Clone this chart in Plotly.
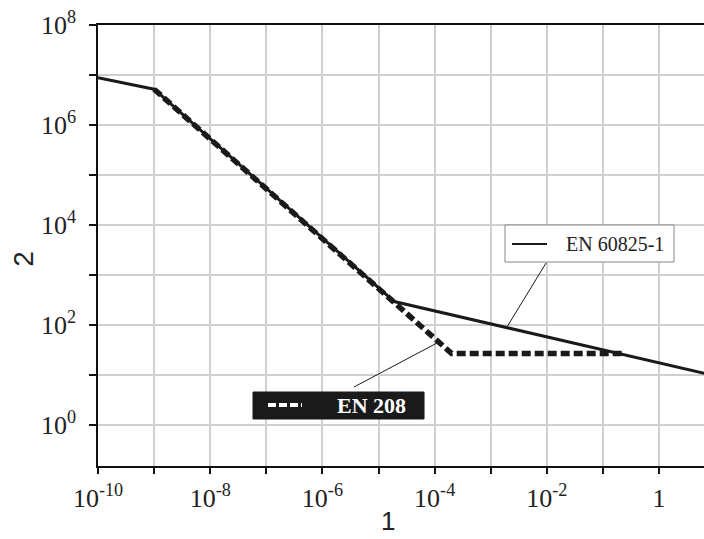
import plotly.graph_objects as go

# ---- data ----
x_en60825 = [1e-10, 1e-9, 1.9e-5, 10]
y_en60825 = [8.8e6, 5.2e6, 295, 9.6]

x_en208 = [1e-9, 1.9e-5, 2e-4, 0.22]
y_en208 = [5.2e6, 295, 27, 27]

x_tickvals = [1e-10, 1e-8, 1e-6, 1e-4, 1e-2, 1]
x_ticktext = ["10<sup>-10</sup>", "10<sup>-8</sup>", "10<sup>-6</sup>",
              "10<sup>-4</sup>", "10<sup>-2</sup>", "1"]
x_minorvals = [1e-9, 1e-7, 1e-5, 1e-3, 1e-1]
y_tickvals = [1, 1e2, 1e4, 1e6, 1e8]
y_ticktext = ["10<sup>0</sup>", "10<sup>2</sup>", "10<sup>4</sup>",
              "10<sup>6</sup>", "10<sup>8</sup>"]
y_minorvals = [10, 1e3, 1e5, 1e7]

x_title = "1"
y_title = "2"
label_60825 = "EN 60825-1"
label_208 = "EN 208"

LINE = "#1a1a1a"
GRID = "#cfcfcf"

fig = go.Figure()
fig.add_trace(go.Scatter(x=x_en60825, y=y_en60825, mode="lines",
                         line=dict(color=LINE, width=3), showlegend=False,
                         name=label_60825))
fig.add_trace(go.Scatter(x=x_en208, y=y_en208, mode="lines",
                         line=dict(color=LINE, width=5.5, dash="9px,4px"),
                         showlegend=False, name=label_208))

tickfont = dict(family="Liberation Serif", size=26, color="#222")

fig.update_xaxes(type="log", range=[-10, 0.80], automargin=False,
                 tickvals=x_tickvals, ticktext=x_ticktext, tickfont=tickfont,
                 ticks="outside", ticklen=6, tickwidth=1.5, tickcolor="#111",
                 showgrid=True, gridcolor=GRID, gridwidth=1.5,
                 minor=dict(tickvals=x_minorvals, ticks="outside", ticklen=6,
                            tickwidth=1.5, tickcolor="#111", showgrid=True,
                            gridcolor=GRID, gridwidth=1.5),
                 showline=True, linecolor="#111", linewidth=1.5, mirror=True,
                 ticklabelstandoff=2, zeroline=False)
fig.update_yaxes(type="log", range=[-0.82, 8], automargin=False,
                 tickvals=y_tickvals, ticktext=y_ticktext, tickfont=tickfont,
                 ticks="outside", ticklen=7, tickwidth=1.5, tickcolor="#111",
                 showgrid=True, gridcolor=GRID, gridwidth=1.5,
                 minor=dict(tickvals=y_minorvals, ticks="outside", ticklen=7,
                            tickwidth=1.5, tickcolor="#111", showgrid=True,
                            gridcolor=GRID, gridwidth=1.5),
                 showline=True, linecolor="#111", linewidth=1.5,
                 ticklabelstandoff=8, zeroline=False)

shapes = [
    # EN 60825-1 legend box
    dict(type="rect", xref="paper", yref="paper", x0=0.6716, x1=0.9505, y0=0.4626, y1=0.5465,
         fillcolor="white", line=dict(color="#888", width=1)),
    dict(type="line", xref="paper", yref="paper", x0=0.6832, x1=0.7409, y0=0.5034, y1=0.5034,
         line=dict(color=LINE, width=2)),
    dict(type="line", xref="paper", yref="paper", x0=0.7393, x1=0.6749, y0=0.4603, y1=0.3152,
         line=dict(color=LINE, width=1)),
    # EN 208 legend box
    dict(type="rect", xref="paper", yref="paper", x0=0.2558, x1=0.5380, y0=0.1066, y1=0.1678,
         fillcolor="#1a1a1a", line=dict(color="#1a1a1a", width=1)),
    dict(type="line", xref="paper", yref="paper", x0=0.2805, x1=0.3366, y0=0.1383, y1=0.1383,
         line=dict(color="white", width=4, dash="8px,3px")),
    dict(type="line", xref="paper", yref="paper", x0=0.4224, x1=0.5594, y0=0.1791, y1=0.2789,
         line=dict(color=LINE, width=1)),
]

annotations = [
    dict(text=label_60825, xref="paper", yref="paper", x=0.769, y=0.5034,
         xanchor="left", yanchor="middle", showarrow=False,
         font=dict(family="Liberation Serif", size=20, color="#222")),
    dict(text="<b>" + label_208 + "</b>", xref="paper", yref="paper", x=0.3911, y=0.1383,
         xanchor="left", yanchor="middle", showarrow=False,
         font=dict(family="Liberation Serif", size=22, color="white")),
    dict(text=x_title, xref="paper", yref="paper", x=0.478, y=-0.1633,
         xanchor="center", yanchor="bottom", showarrow=False,
         font=dict(family="Liberation Sans", size=26, color="#222")),
    dict(text=y_title, xref="paper", yref="paper", x=-0.122, y=0.47,
         xanchor="center", yanchor="middle", showarrow=False, textangle=-90,
         font=dict(family="Liberation Sans", size=28, color="#222")),
]

fig.update_layout(width=704, height=539,
                  margin=dict(l=98, r=0, t=25, b=73),
                  plot_bgcolor="white", paper_bgcolor="white",
                  shapes=shapes, annotations=annotations)

fig.write_html("out.html", config={"displayModeBar": False},
               post_script="document.body.style.margin='0';document.body.style.overflow='hidden';")
